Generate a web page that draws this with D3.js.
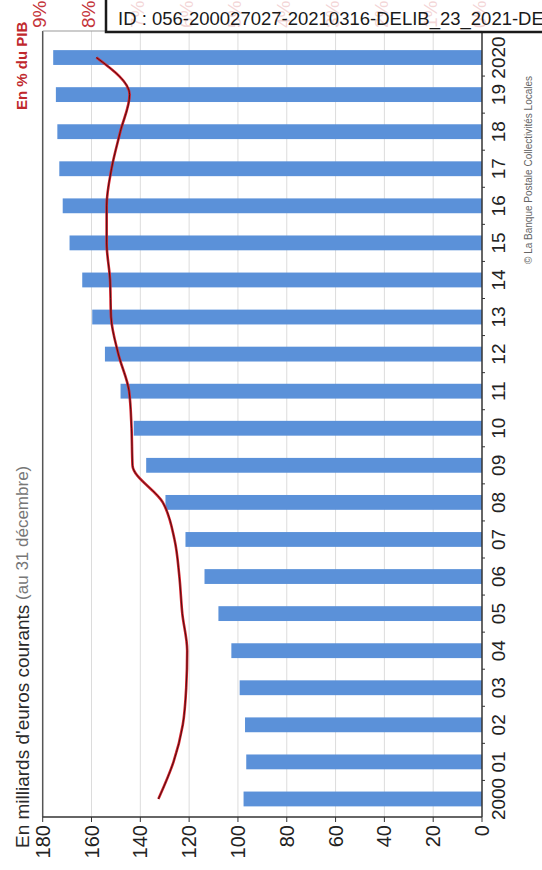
<!DOCTYPE html>
<html>
<head>
<meta charset="utf-8">
<script src="https://cdn.jsdelivr.net/npm/d3@7"></script>
<style>
  body { margin: 0; background: #fff; }
  text { font-family: "Liberation Sans", Arial, sans-serif; }
</style>
</head>
<body>
<svg id="chart" width="542" height="870"></svg>
<script>
// years on the category axis
const years = ['2000', '01', '02', '03', '04', '05', '06', '07', '08', '09', '10',
               '11', '12', '13', '14', '15', '16', '17', '18', '19', '2020'];
// encours de dette, en milliards d'euros
const debt = [97.7, 96.6, 97.1, 99.3, 102.7, 108, 113.7, 121.5, 129.7, 137.6, 142.7,
              148.1, 154.5, 159.7, 163.8, 169, 171.8, 173.2, 174, 174.6, 175.7];
// en % du PIB
const pctPib = [6.63, 6.32, 6.13, 6.06, 6.04, 6.14, 6.2, 6.3, 6.54, 7.16, 7.18,
                7.23, 7.45, 7.6, 7.62, 7.69, 7.69, 7.59, 7.41, 7.22, 7.9];
const valueTicks = [0, 20, 40, 60, 80, 100, 120, 140, 160, 180];
const pctTicks = [0, 1, 2, 3, 4, 5, 6, 7, 8, 9];

const svg = d3.select('#chart');
const W = 542, H = 870;

svg.append('rect').attr('width', W).attr('height', H).attr('fill', '#fff');

// the chart is drawn upright then turned a quarter turn
const g = svg.append('g').attr('transform', `translate(0,${H}) rotate(-90)`);

const plotLeft = 53, plotRight = 839;   // along the years
const plotTop = 42.7, plotBottom = 482; // along the values

const x = d3.scaleBand().domain(years).range([52.5, 831]).paddingInner(0.6).paddingOuter(0.3);
const y = d3.scaleLinear().domain([0, 180]).range([plotBottom, plotTop]);
const y2 = d3.scaleLinear().domain([0, 9]).range([plotBottom, plotTop]);

// grid
g.selectAll('.grid').data(valueTicks.slice(1, -1)).enter().append('line')
  .attr('x1', plotLeft).attr('x2', plotRight)
  .attr('y1', d => y(d)).attr('y2', d => y(d))
  .attr('stroke', '#dcdcdc').attr('stroke-width', 1);

// bars
g.selectAll('.bar').data(debt).enter().append('rect')
  .attr('x', (d, i) => x(years[i]))
  .attr('y', d => y(d))
  .attr('width', x.bandwidth())
  .attr('height', d => y(0) - y(d))
  .attr('fill', '#5b91d9');

// line % du PIB
const line = d3.line()
  .x((d, i) => x(years[i]) + x.bandwidth() / 2)
  .y(d => y2(d))
  .curve(d3.curveMonotoneX);

g.append('path').datum(pctPib).attr('d', line)
  .attr('fill', 'none').attr('stroke', '#d6212b').attr('stroke-width', 2.6);
g.append('path').datum(pctPib).attr('d', line)
  .attr('fill', 'none').attr('stroke', '#3b0d10').attr('stroke-width', 0.9);

// frame
g.append('line').attr('x1', plotLeft).attr('x2', plotRight).attr('y1', plotTop).attr('y2', plotTop)
  .attr('stroke', '#555').attr('stroke-width', 1.5);
g.append('line').attr('x1', plotRight).attr('x2', plotRight).attr('y1', plotTop).attr('y2', plotBottom)
  .attr('stroke', '#999').attr('stroke-width', 1);
g.append('line').attr('x1', plotLeft).attr('x2', plotRight).attr('y1', plotBottom).attr('y2', plotBottom)
  .attr('stroke', '#333').attr('stroke-width', 1.5);
g.append('line').attr('x1', plotLeft).attr('x2', plotLeft).attr('y1', plotTop).attr('y2', plotBottom)
  .attr('stroke', '#333').attr('stroke-width', 1.5);

// value ticks + labels
g.selectAll('.vtick').data(valueTicks).enter().append('line')
  .attr('x1', plotLeft - 5).attr('x2', plotLeft)
  .attr('y1', d => y(d)).attr('y2', d => y(d))
  .attr('stroke', '#333');
g.selectAll('.vlab').data(valueTicks).enter().append('text')
  .attr('x', plotLeft - 8).attr('y', d => y(d))
  .attr('text-anchor', 'end').attr('dominant-baseline', 'central')
  .attr('font-size', 20).attr('fill', '#222')
  .text(d => d);

// year ticks + labels
g.selectAll('.ytick').data(years.slice(1)).enter().append('line')
  .attr('x1', d => x(d) - x.step() * 0.3).attr('x2', d => x(d) - x.step() * 0.3)
  .attr('y1', plotBottom).attr('y2', plotBottom + 3)
  .attr('stroke', '#333');
g.selectAll('.ylab').data(years).enter().append('text')
  .attr('x', d => x(d) + x.bandwidth() / 2).attr('y', 498)
  .attr('text-anchor', 'middle').attr('dominant-baseline', 'central')
  .attr('font-size', 19).attr('fill', '#222')
  .text(d => d);

// secondary axis labels
g.selectAll('.plab').data(pctTicks).enter().append('text')
  .attr('x', 842).attr('y', d => y2(d) - 3)
  .attr('text-anchor', 'start').attr('dominant-baseline', 'central')
  .attr('font-size', 19).attr('fill', '#c4343a')
  .text(d => d + '%');

// axis titles
const t1 = g.append('text').attr('x', 22).attr('y', 22)
  .attr('dominant-baseline', 'central').attr('font-size', 19).attr('fill', '#2a2a2a');
t1.append('tspan').text("En milliards d'euros courants");
t1.append('tspan').attr('font-size', 17).attr('fill', '#777').text(' (au 31 décembre)');

g.append('text').attr('x', 760).attr('y', 21)
  .attr('dominant-baseline', 'central').attr('font-size', 15).attr('font-weight', 'bold')
  .attr('fill', '#c0282d').text('En % du PIB');

g.append('text').attr('x', 606).attr('y', 528)
  .attr('dominant-baseline', 'central').attr('font-size', 10).attr('fill', '#666')
  .text('© La Banque Postale Collectivités Locales');

// stamp
svg.append('rect').attr('x', 106).attr('y', -5).attr('width', 460).attr('height', 37)
  .attr('fill', '#fff').attr('fill-opacity', 0.8)
  .attr('stroke', '#1a1a1a').attr('stroke-width', 2.5);
svg.append('text').attr('x', 118).attr('y', 25)
  .attr('font-size', 18.5).attr('fill', '#1a1a1a')
  .text('ID : 056-200027027-20210316-DELIB_23_2021-DE');
</script>
</body>
</html>
